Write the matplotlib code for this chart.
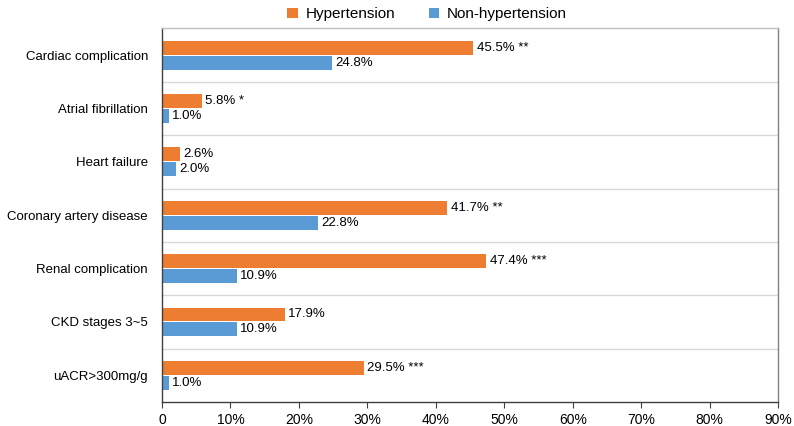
import numpy as np
import matplotlib
matplotlib.use("Agg")
import matplotlib.pyplot as plt
from matplotlib.ticker import FuncFormatter

plt.rcParams['font.family'] = ['Liberation Sans', 'DejaVu Sans']

categories = ["Cardiac complication", "Atrial fibrillation", "Heart failure",
              "Coronary artery disease", "Renal complication", "CKD stages 3~5",
              "uACR>300mg/g"]
hyper = [45.5, 5.8, 2.6, 41.7, 47.4, 17.9, 29.5]
nonhyper = [24.8, 1.0, 2.0, 22.8, 10.9, 10.9, 1.0]
stars = ["**", "*", "", "**", "***", "", "***"]

orange = "#ED7D31"
blue = "#5B9BD5"

fig = plt.figure(figsize=(7.94, 4.26), dpi=100)
ax = fig.add_axes([0.204, 0.0563, 0.776, 0.877])

y = np.arange(len(categories))
h = 0.26
off = 0.14
ax.barh(y - off, hyper, height=h, color=orange, label="Hypertension")
ax.barh(y + off, nonhyper, height=h, color=blue, label="Non-hypertension")

for i in range(len(categories)):
    txt = f"{hyper[i]:.1f}%"
    if stars[i]:
        txt += " " + stars[i]
    ax.text(hyper[i] + 0.5, y[i] - off, txt, va="center", ha="left", fontsize=9.5)
    ax.text(nonhyper[i] + 0.5, y[i] + off, f"{nonhyper[i]:.1f}%", va="center", ha="left", fontsize=9.5)

for b in np.arange(len(categories) - 1) + 0.5:
    ax.axhline(b, color="#D9D9D9", lw=1, zorder=0)

ax.set_xlim(0, 90)
ax.set_ylim(len(categories) - 0.5, -0.5)
ax.set_yticks(y)
ax.set_yticklabels(categories, fontsize=9.5)
ax.tick_params(axis="y", length=0, pad=10)
ax.set_xticks(np.arange(0, 91, 10))
ax.xaxis.set_major_formatter(FuncFormatter(lambda v, p: "0" if v == 0 else f"{int(v)}%"))
ax.tick_params(axis="x", length=4, color="#404040", labelsize=10, pad=4)

ax.spines["left"].set_color("#404040")
ax.spines["bottom"].set_color("#404040")
ax.spines["right"].set_color("#808080")
ax.spines["top"].set_color("#BFBFBF")
for s in ax.spines.values():
    s.set_linewidth(1)

fig.legend(loc="upper center", bbox_to_anchor=(0.538, 1.015), ncol=2, frameon=False,
           fontsize=11, handlelength=0.7, handleheight=0.7, columnspacing=2.2,
           handletextpad=0.5)

fig.savefig("out.png", dpi=100)
